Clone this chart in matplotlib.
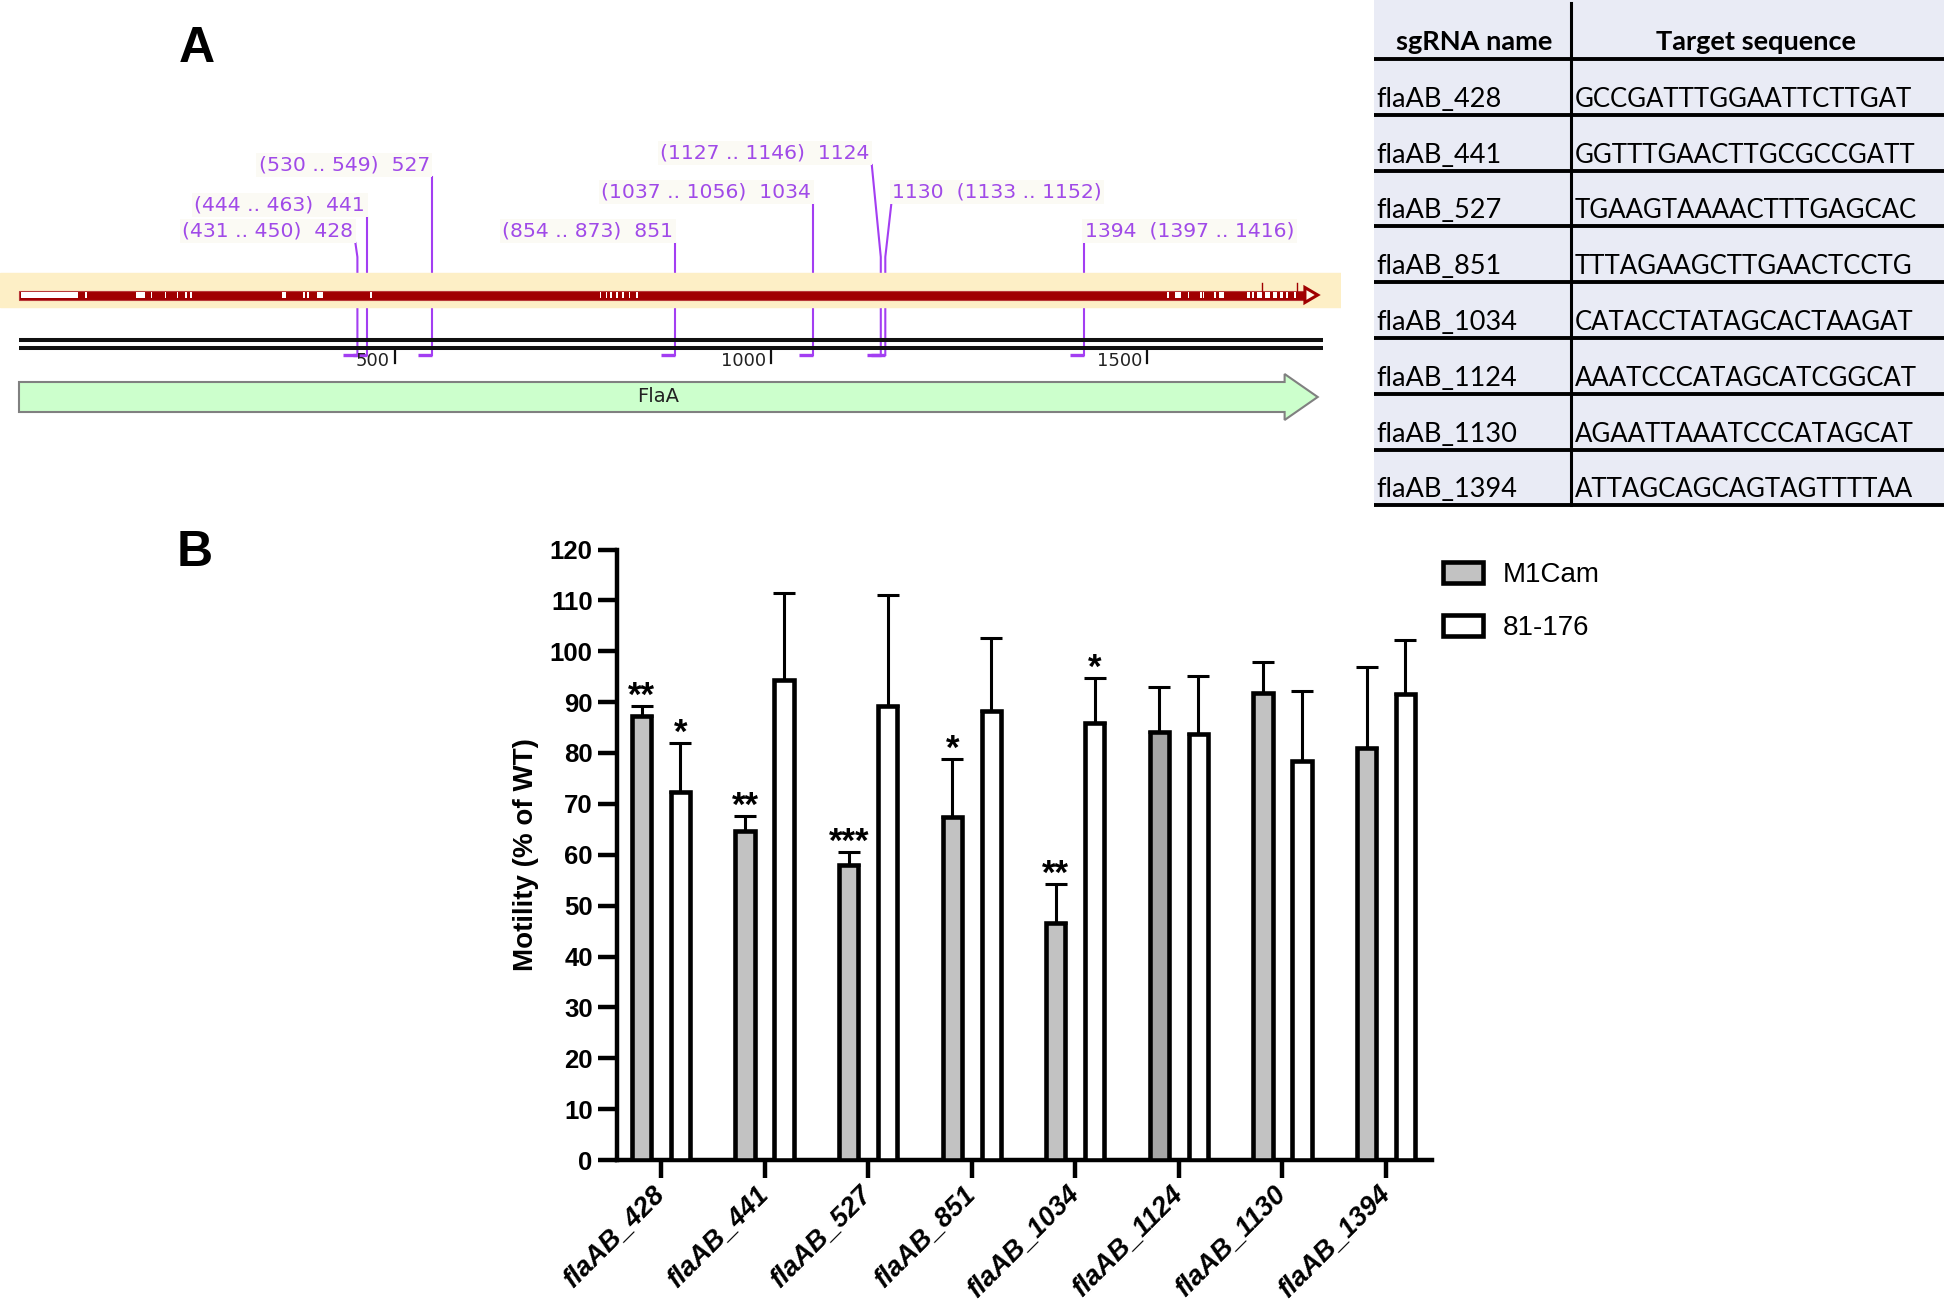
import matplotlib
matplotlib.use('Agg')
import matplotlib.pyplot as plt
import matplotlib.patches as patches
import numpy as np

plt.rcParams['font.family'] = ['Liberation Sans', 'DejaVu Sans']

# ---------------- datos panel B (motilidad) ----------------
guides = ['flaAB_428', 'flaAB_441', 'flaAB_527', 'flaAB_851',
          'flaAB_1034', 'flaAB_1124', 'flaAB_1130', 'flaAB_1394']
m1cam_mean = [87.3, 64.6, 57.9, 67.4, 46.6, 84.1, 91.7, 80.9]
m1cam_err = [2.0, 3.0, 2.7, 11.5, 7.7, 8.9, 6.1, 16.0]
s81_mean = [72.3, 94.3, 89.3, 88.3, 85.9, 83.7, 78.5, 91.5]
s81_err = [9.6, 17.1, 21.8, 14.4, 8.9, 11.5, 13.7, 10.7]
m1cam_sig = ['**', '**', '***', '*', '**', '', '', '']
s81_sig = ['*', '', '', '', '*', '', '', '']
series_names = ['M1Cam', '81-176']
y_ticks = list(range(0, 121, 10))

# ---------------- datos panel A (mapa de flaA) ----------------
gene_name = 'FlaA'
gene_len = 1727
seq_len = 1734
scale_ticks = [500, 1000, 1500]
primer_names = ['428', '441', '527', '851', '1034', '1124', '1130', '1394']
primer_start = [431, 444, 530, 854, 1037, 1127, 1133, 1397]
primer_end = [450, 463, 549, 873, 1056, 1146, 1152, 1416]
snp_start = [3, 88, 156, 175, 194, 210, 221, 228, 350, 378, 383, 396, 467,
             772, 780, 786, 794, 802, 811, 821,
             1527, 1537, 1554, 1571, 1574, 1589, 1596, 1633, 1640, 1646,
             1657, 1668, 1677, 1685, 1696]
snp_end = [78, 90, 168, 177, 196, 212, 223, 230, 355, 380, 385, 404, 469,
           774, 782, 789, 797, 804, 813, 823,
           1529, 1545, 1556, 1573, 1576, 1592, 1602, 1637, 1642, 1653,
           1664, 1673, 1681, 1687, 1698]
variant_ticks = [1653, 1700]

# ---------------- datos tabla ----------------
table_header = ['sgRNA name', 'Target sequence']
target_seqs = ['GCCGATTTGGAATTCTTGAT', 'GGTTTGAACTTGCGCCGATT',
               'TGAAGTAAAACTTTGAGCAC', 'TTTAGAAGCTTGAACTCCTG',
               'CATACCTATAGCACTAAGAT', 'AAATCCCATAGCATCGGCAT',
               'AGAATTAAATCCCATAGCAT', 'ATTAGCAGCAGTAGTTTTAA']

# layout de las etiquetas de primers (fila y, lado, desplazamiento en px)
label_y = [231, 205, 165, 231, 192, 153, 192, 231]
label_side = ['r', 'r', 'r', 'r', 'r', 'r', 'l', 'l']
line_shift = [-2, 0, 0, 0, 0, -9, 6, 0]

W, H = 1944, 1305
fig = plt.figure(figsize=(W / 100, H / 100), dpi=100)


def px_axes(x0, y0, x1, y1):
    """Axes colocado en pixeles de la figura (origen arriba a la izquierda)"""
    return fig.add_axes([x0 / W, 1 - y1 / H, (x1 - x0) / W, (y1 - y0) / H])


purple = '#a33ef2'
purple_txt = '#a04ae8'

# ================= Panel A: mapa =================
map_x0 = 19          # pixel donde cae la base 0
px_per_bp = 0.752
ax_map = px_axes(0, 100, 1341, 430)
ax_map.set_xlim(-map_x0 / px_per_bp, (1341 - map_x0) / px_per_bp)
ax_map.set_ylim(430, 100)
ax_map.axis('off')

# banda naranja + gen en rojo
ax_map.axhspan(273, 307, color='#fdefc6', zorder=2)
red_head = 17
ax_map.add_patch(patches.Rectangle((0, 290.5), gene_len - red_head, 9,
                                   facecolor='#a00000', edgecolor='#b83a3a',
                                   linewidth=0.8, zorder=3))
ax_map.add_patch(patches.Polygon([(gene_len - red_head, 287.5), (gene_len, 295),
                                  (gene_len - red_head, 302.5)], closed=True,
                                 facecolor='#fff8e8', edgecolor='#a00000',
                                 linewidth=2.2, zorder=3))
for s, e in zip(snp_start, snp_end):
    ax_map.add_patch(patches.Rectangle((s, 292.3), e - s, 5.4, facecolor='white',
                                       edgecolor='none', zorder=4))
for p in variant_ticks:
    ax_map.plot([p, p], [283, 291], color='#a00000', lw=1.0, zorder=4)

# doble linea negra de la secuencia
for yy in (340, 348):
    ax_map.plot([0, seq_len], [yy, yy], color='#111111', lw=2.9,
                solid_capstyle='butt', zorder=2)
for t in scale_ticks:
    ax_map.plot([t, t], [350, 363], color='#111111', lw=1.6, zorder=2)
    ax_map.text(t - 5 / px_per_bp, 361, str(t), ha='right', va='center',
                fontsize=13, family='DejaVu Sans', color='#222222', zorder=2)

# primers
for i, name in enumerate(primer_names):
    xs, xe = primer_start[i], primer_end[i]
    ax_map.plot([xs, xe], [355, 355], color=purple, lw=2.4, zorder=1,
                solid_capstyle='butt')
    top_x = xe + line_shift[i] / px_per_bp
    ytop = label_y[i] + 12
    ax_map.plot([xe, xe, top_x], [355, 257, ytop], color=purple, lw=1.5, zorder=1)
    rng = f'({xs} .. {xe})'
    if label_side[i] == 'r':
        txt = f'{rng}  {name}'
        ax_map.text(top_x - 2 / px_per_bp, label_y[i], txt, ha='right', va='center',
                    fontsize=14.7, family='DejaVu Sans', color=purple_txt, zorder=5,
                    bbox=dict(boxstyle='square,pad=0.12', facecolor='#fbfaf4',
                              edgecolor='none'))
    else:
        txt = f'{name}  {rng}'
        ax_map.text(top_x + 1 / px_per_bp, label_y[i], txt, ha='left', va='center',
                    fontsize=14.7, family='DejaVu Sans', color=purple_txt, zorder=5,
                    bbox=dict(boxstyle='square,pad=0.12', facecolor='#fbfaf4',
                              edgecolor='none'))

# flecha verde FlaA
green_head = 44
hb = gene_len - green_head
ax_map.add_patch(patches.Polygon([(0, 382), (hb, 382), (hb, 374), (gene_len, 397),
                                  (hb, 420), (hb, 412), (0, 412)], closed=True,
                                 facecolor='#ccffcc', edgecolor='#808080',
                                 linewidth=1.5, zorder=2))
ax_map.text(hb / 2 + 8, 397, gene_name, ha='center', va='center', fontsize=14,
            family='DejaVu Sans', color='#222222', zorder=3)

# ================= Tabla =================
ax_tab = px_axes(1374, 0, 1944, 510)
ax_tab.set_xlim(0, 570)
ax_tab.set_ylim(510, 0)
ax_tab.axis('off')
header_h = 59
row_h = 55.8
n_rows = len(guides)
table_bottom = header_h + n_rows * row_h
col_x = 197
ax_tab.add_patch(patches.Rectangle((0, 0), 570, table_bottom, facecolor='#e9ebf5',
                                   edgecolor='none', zorder=0))
ax_tab.plot([col_x, col_x], [3, table_bottom], color='black', lw=2.2, zorder=2)
for r in range(n_rows + 1):
    yy = header_h + r * row_h
    ax_tab.plot([0, 570], [yy, yy], color='black', lw=2.8, zorder=2)
ax_tab.text(col_x / 2 + 2, header_h - 9, table_header[0], ha='center', va='baseline',
            fontsize=19.5, fontweight='bold', family=['Lato', 'DejaVu Sans'])
ax_tab.text((col_x + 570) / 2 - 2, header_h - 9, table_header[1], ha='center',
            va='baseline', fontsize=19.5, fontweight='bold', family=['Lato', 'DejaVu Sans'])
for r in range(n_rows):
    base = header_h + (r + 1) * row_h - 8
    ax_tab.text(2, base, guides[r], ha='left', va='baseline', fontsize=19.5,
                family=['Lato', 'DejaVu Sans'])
    ax_tab.text(col_x + 4, base, target_seqs[r], ha='left', va='baseline',
                fontsize=18.5, family=['Lato', 'DejaVu Sans'])

# ================= Panel B: barras =================
ax = px_axes(617, 549.5, 1432, 1160)
x = np.arange(len(guides))
off = 0.188
bw = 0.186
gray = ['#c2c2c2'] * len(guides)
gray[5] = '#a6a6a6'
zeros = np.zeros(len(guides))

ax.bar(x - off, m1cam_mean, bw, color=gray, edgecolor='black', linewidth=3.3,
       zorder=3, label=series_names[0])
ax.bar(x + off, s81_mean, bw, color='white', edgecolor='black', linewidth=3.3,
       zorder=3, label=series_names[1])
ax.errorbar(x - off, m1cam_mean, yerr=[zeros, m1cam_err], fmt='none', ecolor='black',
            elinewidth=2.2, capsize=8, capthick=2.2, zorder=2)
ax.errorbar(x + off, s81_mean, yerr=[zeros, s81_err], fmt='none', ecolor='black',
            elinewidth=2.2, capsize=8, capthick=2.2, zorder=2)

for xi, m, e, s in zip(x - off, m1cam_mean, m1cam_err, m1cam_sig):
    if s:
        ax.annotate(s, (xi, m + e), xytext=(0, 0), textcoords='offset points',
                    ha='center', va='baseline', fontsize=25, fontweight='bold')
for xi, m, e, s in zip(x + off, s81_mean, s81_err, s81_sig):
    if s:
        ax.annotate(s, (xi, m + e), xytext=(0, 0), textcoords='offset points',
                    ha='center', va='baseline', fontsize=25, fontweight='bold')

ax.set_xlim(-0.425, 7.444)
ax.set_ylim(0, 120)
ax.set_yticks(y_ticks)
ax.set_xticks(x)
ax.set_xticklabels(guides, rotation=45, ha='right', va='center',
                   rotation_mode='anchor', fontsize=19.5, fontweight='bold',
                   fontstyle='italic')
for lbl in ax.get_yticklabels():
    lbl.set_fontweight('bold')
    lbl.set_fontsize(18.5)
for side in ('top', 'right'):
    ax.spines[side].set_visible(False)
for side in ('left', 'bottom'):
    ax.spines[side].set_linewidth(3.2)
ax.tick_params(axis='y', length=13.5, width=3.2, pad=4)
ax.tick_params(axis='x', length=13, width=3.2, pad=9)
ax.set_ylabel('Motility (% of WT)', fontsize=20, fontweight='bold', labelpad=8)

ax.legend(loc='upper left', bbox_to_anchor=(1443 / W, 1 - 562 / H),
          bbox_transform=fig.transFigure, frameon=False, fontsize=20,
          handlelength=1.45, handleheight=0.8, handletextpad=0.7,
          labelspacing=0.95, borderpad=0, borderaxespad=0)

fig.text(197 / W, 1 - 49 / H, 'A', ha='center', va='center', fontsize=36,
         fontweight='bold')
fig.text(195 / W, 1 - 553 / H, 'B', ha='center', va='center', fontsize=36,
         fontweight='bold')

fig.savefig('out.png', dpi=100, facecolor='white')
